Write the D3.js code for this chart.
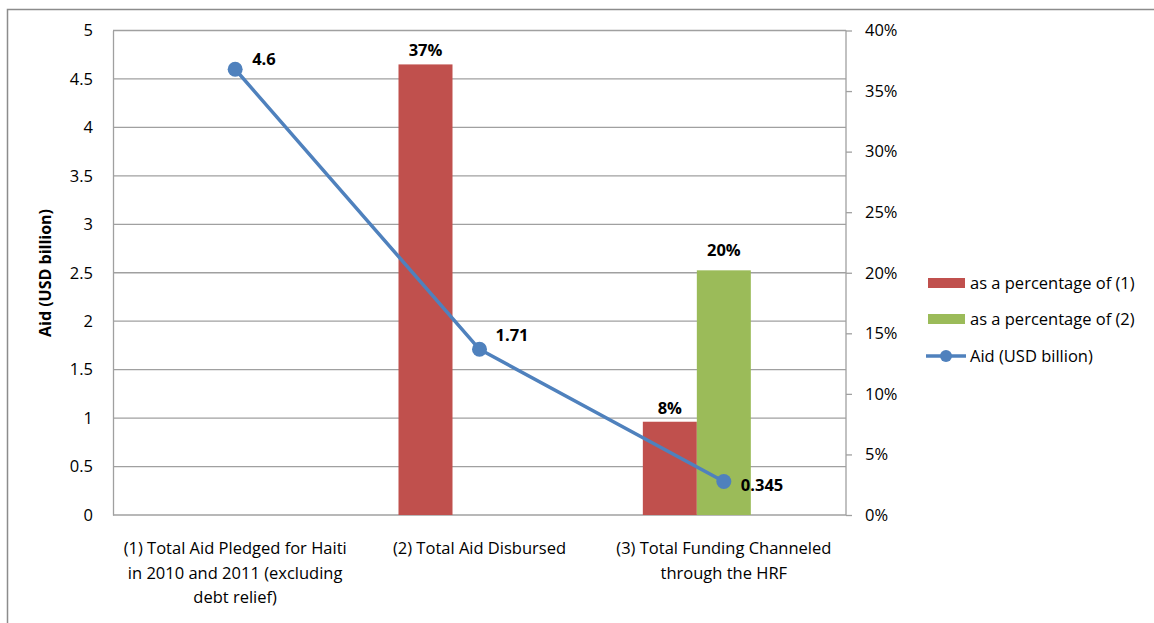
<!DOCTYPE html>
<html><head><meta charset="utf-8">
<script src="https://cdn.jsdelivr.net/npm/d3@7"></script>
<style>
body{margin:0;background:#fff;}
text{font-family:"Open Sans",Lato,sans-serif;fill:#000;}
</style></head>
<body>
<svg id="chart" width="1154" height="623"></svg>
<script>
const categories = ["(1) Total Aid Pledged for Haiti in 2010 and 2011 (excluding debt relief)", "(2) Total Aid Disbursed", "(3) Total Funding Channeled through the HRF"];
const categoryLines = [["(1) Total Aid Pledged for Haiti","in 2010 and 2011 (excluding","debt relief)"],["(2) Total Aid Disbursed"],["(3) Total Funding Channeled","through the HRF"]];
const pctOf1 = [null, 37.2, 7.7];
const pctOf1Labels = ["", "37%", "8%"];
const pctOf2 = [null, null, 20.2];
const pctOf2Labels = ["", "", "20%"];
const aid = [4.6, 1.71, 0.345];
const aidLabels = ["4.6", "1.71", "0.345"];
const leftTicks = [0,0.5,1,1.5,2,2.5,3,3.5,4,4.5,5];
const rightTicks = [0,5,10,15,20,25,30,35,40];
const seriesNames = ["as a percentage of (1)", "as a percentage of (2)", "Aid (USD billion)"];

const colors = {red:"#C0504D", green:"#9BBB59", blue:"#4F81BD", grid:"#A0A0A0"};
const FS = "16.5px", FSB = "16.5px";
const svg = d3.select("#chart");

// outer border
svg.append("rect").attr("x",7.5).attr("y",9.5).attr("width",1160).attr("height",640)
  .attr("fill","none").attr("stroke","#8c8c8c").attr("stroke-width",1.5);

const L=113, R=846, T=30.5, B=515;
const x = d3.scaleBand().domain(d3.range(categories.length)).range([L,R]);
const yL = d3.scaleLinear().domain([0,5]).range([B,T]);
const yR = d3.scaleLinear().domain([0,40]).range([B,T]);

// gridlines
svg.append("g").selectAll("line").data(leftTicks).join("line")
  .attr("x1",L).attr("x2",R).attr("y1",d=>yL(d)).attr("y2",d=>yL(d))
  .attr("stroke",colors.grid).attr("stroke-width",1.3);

// left axis
const gl = svg.append("g").attr("transform",`translate(${L},0)`)
  .call(d3.axisLeft(yL).tickValues(leftTicks).tickSize(0).tickPadding(20).tickFormat(d=>String(d)));
gl.select(".domain").attr("stroke",colors.grid).attr("stroke-width",1.3);
gl.selectAll("text").style("font-size",FS).attr("fill","#000");

// right axis
const gr = svg.append("g").attr("transform",`translate(${R},0)`)
  .call(d3.axisRight(yR).tickValues(rightTicks).tickSize(6).tickPadding(13).tickFormat(d=>d+"%"));
gr.select(".domain").attr("stroke",colors.grid).attr("stroke-width",1.3).attr("d",`M0,${T}V${B}`);
gr.selectAll(".tick line").attr("stroke",colors.grid).attr("stroke-width",1.3);
gr.selectAll("text").style("font-size",FS).attr("fill","#000");

// bars (three slots per category; third slot empty)
const bw = 54;
const bars = svg.append("g");
pctOf1.forEach((v,i)=>{
  if(v==null) return;
  const cx = x(i)+x.bandwidth()/2;
  bars.append("rect").attr("x",cx-1.5*bw).attr("y",yR(v)).attr("width",bw).attr("height",B-yR(v)).attr("fill",colors.red);
  bars.append("text").attr("x",cx-bw).attr("y",yR(v)-8).attr("text-anchor","middle")
    .style("font-size",FSB).style("font-weight","bold").text(pctOf1Labels[i]);
});
pctOf2.forEach((v,i)=>{
  if(v==null) return;
  const cx = x(i)+x.bandwidth()/2;
  bars.append("rect").attr("x",cx-0.5*bw).attr("y",yR(v)).attr("width",bw).attr("height",B-yR(v)).attr("fill",colors.green);
  bars.append("text").attr("x",cx).attr("y",yR(v)-14).attr("text-anchor","middle")
    .style("font-size",FSB).style("font-weight","bold").text(pctOf2Labels[i]);
});

// line
const line = d3.line().x((d,i)=>x(i)+x.bandwidth()/2).y(d=>yL(d));
svg.append("path").datum(aid).attr("d",line).attr("fill","none")
  .attr("stroke",colors.blue).attr("stroke-width",3.5).attr("stroke-linejoin","round");
svg.append("g").selectAll("circle").data(aid).join("circle")
  .attr("cx",(d,i)=>x(i)+x.bandwidth()/2).attr("cy",d=>yL(d)).attr("r",7.5).attr("fill",colors.blue);
const labDy = [-4, -8, 9];
const labDx = [17, 16, 17];
svg.append("g").selectAll("text").data(aid).join("text")
  .attr("x",(d,i)=>x(i)+x.bandwidth()/2+labDx[i]).attr("y",(d,i)=>yL(d)+labDy[i])
  .style("font-size",FSB).style("font-weight","bold").text((d,i)=>aidLabels[i]);

// category labels
categoryLines.forEach((lines,i)=>{
  const cx = x(i)+x.bandwidth()/2;
  const t = svg.append("text").attr("text-anchor","middle").style("font-size",FS);
  lines.forEach((s,j)=>t.append("tspan").attr("x",cx).attr("y",554+j*24.5).text(s));
});

// y axis title
svg.append("text").attr("transform",`translate(51,273) rotate(-90)`).attr("text-anchor","middle")
  .style("font-size","16px").style("font-weight","bold").text("Aid (USD billion)");

// legend
const lg = svg.append("g");
const ly = [283, 319, 356];
lg.append("rect").attr("x",928).attr("y",ly[0]-5).attr("width",37).attr("height",10).attr("fill",colors.red);
lg.append("rect").attr("x",928).attr("y",ly[1]-5).attr("width",37).attr("height",10).attr("fill",colors.green);
lg.append("line").attr("x1",926).attr("x2",966).attr("y1",ly[2]).attr("y2",ly[2]).attr("stroke",colors.blue).attr("stroke-width",3.5);
lg.append("circle").attr("cx",946).attr("cy",ly[2]).attr("r",6).attr("fill",colors.blue);
seriesNames.forEach((s,i)=>{
  lg.append("text").attr("x",970).attr("y",ly[i]).attr("dy","0.35em").style("font-size",FS).text(s);
});
</script>
</body></html>
